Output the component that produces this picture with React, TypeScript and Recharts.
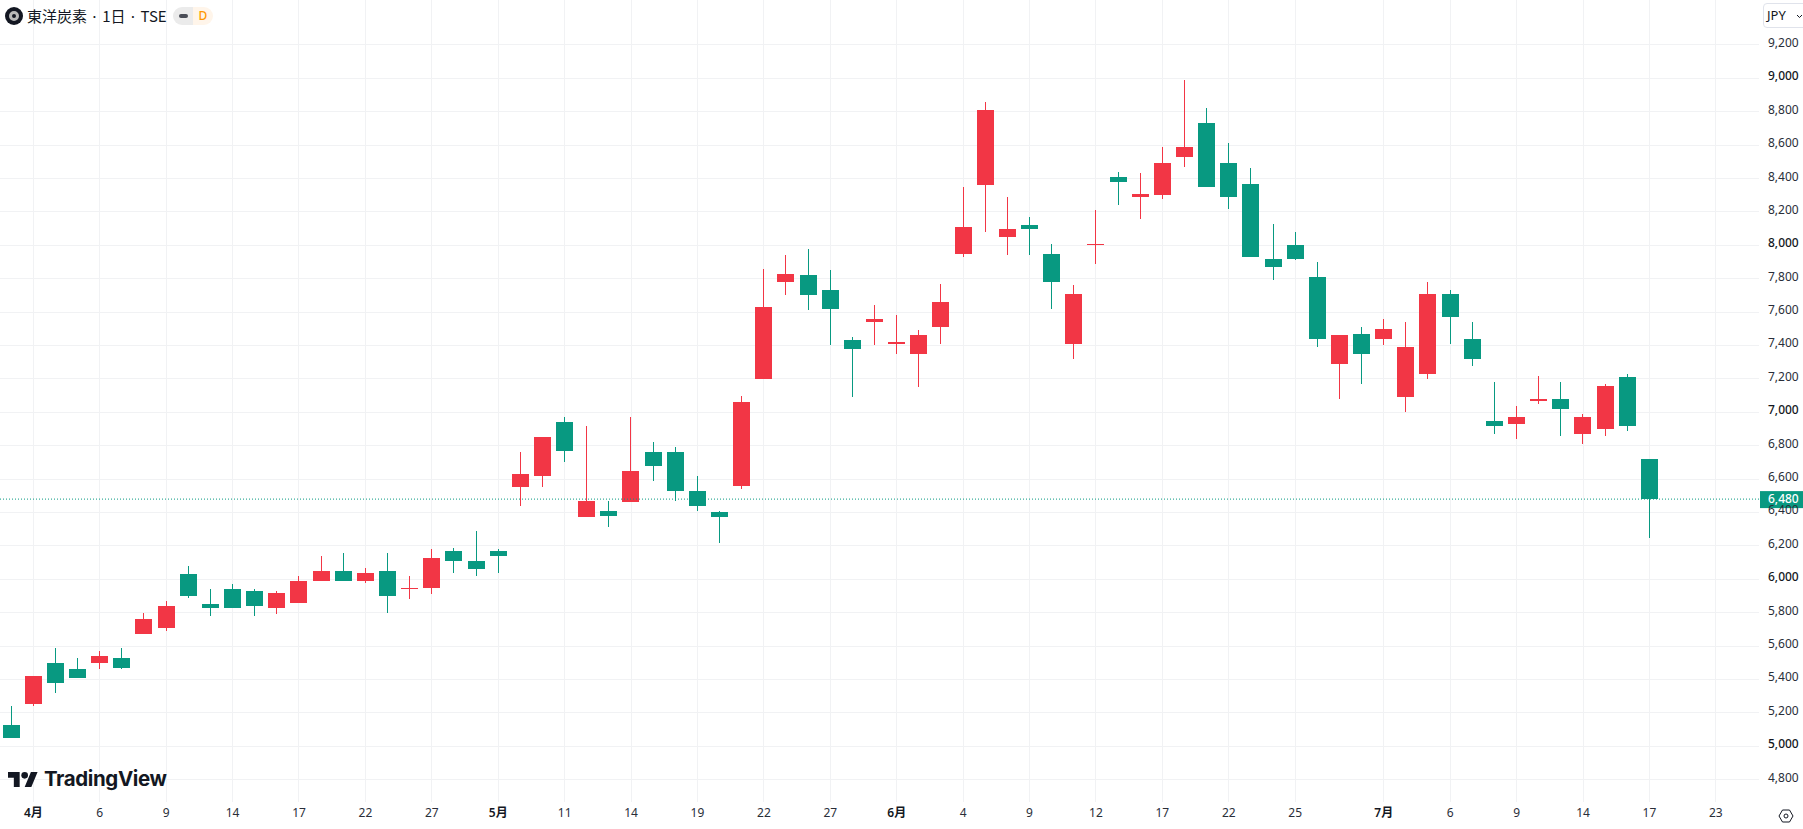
import React from 'react';
import { ComposedChart, Bar, XAxis, YAxis, CartesianGrid, ReferenceLine } from 'recharts';

// 日足データ
const opens = [5130, 5250, 5500, 5460, 5500, 5530, 5670, 5710, 6030, 5850, 5940, 5930, 5830, 5860, 5990, 6050, 5990, 6050, 5940, 5950, 6170, 6110, 6170, 6550, 6620, 6940, 6370, 6410, 6460, 6760, 6760, 6530, 6400, 6560, 7200, 7780, 7820, 7730, 7430, 7540, 7410, 7350, 7510, 7950, 8360, 8050, 8120, 7950, 7410, 8000, 8410, 8290, 8300, 8530, 8730, 8490, 8370, 7920, 8000, 7810, 7290, 7470, 7440, 7090, 7230, 7710, 7440, 6950, 6930, 7070, 7080, 6870, 6900, 7210, 6720];
const highs = [5240, 5420, 5590, 5530, 5570, 5590, 5800, 5870, 6080, 5940, 5970, 5940, 5930, 6020, 6140, 6160, 6070, 6160, 6020, 6180, 6190, 6290, 6180, 6760, 6850, 6970, 6920, 6470, 6970, 6820, 6790, 6620, 6410, 7100, 7860, 7940, 7980, 7850, 7450, 7640, 7580, 7490, 7770, 8350, 8860, 8290, 8170, 8010, 7760, 8210, 8440, 8430, 8590, 8990, 8820, 8610, 8460, 8130, 8080, 7900, 7460, 7510, 7560, 7540, 7780, 7730, 7540, 7180, 7040, 7220, 7180, 6990, 7170, 7230, 6720];
const lows = [5050, 5240, 5320, 5410, 5460, 5460, 5670, 5690, 5890, 5780, 5830, 5780, 5790, 5860, 5990, 5990, 5980, 5800, 5880, 5910, 6040, 6020, 6040, 6440, 6550, 6700, 6370, 6310, 6460, 6590, 6470, 6410, 6220, 6540, 7200, 7700, 7610, 7400, 7090, 7400, 7350, 7150, 7410, 7930, 8080, 7940, 7940, 7620, 7320, 7890, 8240, 8160, 8280, 8470, 8350, 8220, 7930, 7790, 7910, 7390, 7080, 7170, 7400, 7000, 7200, 7410, 7280, 6870, 6840, 7050, 6860, 6810, 6860, 6890, 6250];
const closes = [5050, 5420, 5380, 5410, 5540, 5470, 5760, 5840, 5900, 5830, 5830, 5840, 5920, 5990, 6050, 5990, 6040, 5900, 5950, 6130, 6110, 6060, 6140, 6630, 6850, 6770, 6470, 6380, 6650, 6680, 6530, 6440, 6370, 7060, 7630, 7830, 7700, 7620, 7380, 7560, 7420, 7460, 7660, 8110, 8810, 8100, 8100, 7780, 7710, 8010, 8380, 8310, 8490, 8590, 8350, 8290, 7930, 7870, 7920, 7440, 7460, 7350, 7500, 7390, 7710, 7570, 7320, 6920, 6970, 7080, 7020, 6970, 7160, 6920, 6480];

const tickIndexes = [1, 4, 7, 10, 13, 16, 19, 22, 25, 28, 31, 34, 37, 40, 43, 46, 49, 52, 55, 58, 62, 65, 68, 71, 74, 77];
const tickLabels = ['4月', '6', '9', '14', '17', '22', '27', '5月', '11', '14', '19', '22', '27', '6月', '4', '9', '12', '17', '22', '25', '7月', '6', '9', '14', '17', '23'];
const priceTicks = [4800, 5000, 5200, 5400, 5600, 5800, 6000, 6200, 6400, 6600, 6800, 7000, 7200, 7400, 7600, 7800, 8000, 8200, 8400, 8600, 8800, 9000, 9200];
const lastPrice = 6480;

const UP = '#f23645';
const DOWN = '#089981';
const FONT = '"Noto Sans", "Noto Sans CJK JP", sans-serif';

const chartData = opens.map((open, i) => ({ i, open, high: highs[i], low: lows[i], close: closes[i] }));

const Candle = (props: any) => {
  const { x, y, width, height, payload } = props;
  const k = height / (payload.high - payload.low);
  const color = payload.close >= payload.open ? UP : DOWN;
  const top = y + (payload.high - Math.max(payload.open, payload.close)) * k;
  const bodyH = Math.max(Math.abs(payload.close - payload.open) * k, 1);
  // グリッド線のピクセルに合わせる
  const cx = Math.round(x + width / 2) - 1;
  return (
    <g shapeRendering="crispEdges">
      <rect x={cx} y={y} width={1} height={height} fill={color} />
      <rect x={cx - 8} y={top} width={17} height={bodyH} fill={color} />
    </g>
  );
};

const DateTick = (props: any) => {
  const { x, y, payload } = props;
  const label = tickLabels[tickIndexes.indexOf(payload.value)];
  const major = label.includes('月');
  return (
    <text x={x} y={y} textAnchor="middle" fontFamily={FONT} fontSize={12} fontWeight={major ? 600 : 400} fill={major ? '#131722' : '#2a2e39'}>
      {label}
    </text>
  );
};

const PriceTick = (props: any) => {
  const { x, y, payload } = props;
  const major = payload.value % 1000 === 0;
  return (
    <text x={x} y={y + 2} textAnchor="start" fontFamily={FONT} fontSize={12} fontWeight={major ? 500 : 400} fill={major ? '#131722' : '#2a2e39'}>
      {payload.value.toLocaleString('en-US')}
    </text>
  );
};

const PriceTag = (props: any) => {
  const { viewBox } = props;
  const y = viewBox.y;
  const left = viewBox.x + viewBox.width + 1;
  return (
    <g>
      <rect x={left} y={y - 8} width={43} height={17} fill={DOWN} />
      <text x={left + 8} y={y + 4} fontFamily={FONT} fontSize={12} fontWeight={500} fill="#fff">
        {lastPrice.toLocaleString('en-US')}
      </text>
    </g>
  );
};

export default function App() {
  return (
    <div style={{ position: 'fixed', left: 0, top: 0, width: 1803, height: 829, background: '#fff', overflow: 'hidden' }}>
      <ComposedChart width={1803} height={829} data={chartData} margin={{ top: 0, right: 0, bottom: 0, left: 0 }}>
        <CartesianGrid stroke="#f1f2f4" shapeRendering="crispEdges" syncWithTicks />
        <XAxis
          dataKey="i"
          type="number"
          domain={[-0.506, 78.95]}
          ticks={tickIndexes}
          interval={0}
          allowDataOverflow
          height={27}
          axisLine={false}
          tickLine={false}
          tick={<DateTick />}
          tickMargin={9}
        />
        <YAxis
          orientation="right"
          width={44}
          domain={[4666, 9469]}
          ticks={priceTicks}
          interval={0}
          allowDataOverflow
          axisLine={false}
          tickLine={false}
          tick={<PriceTick />}
          tickSize={0}
          tickMargin={9}
        />
        <ReferenceLine y={lastPrice} stroke={DOWN} strokeDasharray="1 2" label={<PriceTag />} />
        <Bar dataKey={(d: any) => [d.low, d.high]} barSize={17} shape={<Candle />} isAnimationActive={false} />
      </ComposedChart>

      {/* 左上の銘柄表示 */}
      <div style={{ position: 'absolute', left: 5, top: 7, width: 18, height: 18, borderRadius: 9, background: '#131722' }}>
        <div style={{ position: 'absolute', left: 4, top: 4, width: 10, height: 10, borderRadius: 5, border: '3px solid #b8b8b8', boxSizing: 'border-box' }} />
      </div>
      <div style={{ position: 'absolute', left: 27, top: 5, fontFamily: '"Noto Sans CJK JP", sans-serif', fontSize: 15, lineHeight: '22px', color: '#131722', whiteSpace: 'pre' }}>
        東洋炭素 · 1日 · TSE
      </div>
      <div style={{ position: 'absolute', left: 173, top: 7, width: 20, height: 18, background: '#ebebeb', borderRadius: '9px 0 0 9px' }}>
        <div style={{ position: 'absolute', left: 6, top: 7, width: 9, height: 4, borderRadius: 2, background: '#4a4d57' }} />
      </div>
      <div style={{ position: 'absolute', left: 193, top: 7, width: 20, height: 18, background: '#fff5ea', borderRadius: '0 9px 9px 0', color: '#ff9800', fontFamily: FONT, fontSize: 12, fontWeight: 500, lineHeight: '18px', textAlign: 'center' }}>
        D
      </div>

      {/* 通貨ボタン */}
      <div style={{ position: 'absolute', left: 1763, top: 3, width: 48, height: 25, border: '1px solid #e0e3eb', borderRadius: 4, boxSizing: 'border-box', fontFamily: FONT, fontSize: 13, lineHeight: '23px', color: '#131722', paddingLeft: 3 }}>
        JPY
      </div>
      <svg style={{ position: 'absolute', left: 1796, top: 13, width: 7, height: 6 }} viewBox="0 0 7 6">
        <path d="M1 2l2.5 2.5L6 2" fill="none" stroke="#131722" strokeWidth="1" />
      </svg>

      {/* TradingViewロゴ */}
      <svg style={{ position: 'absolute', left: 8, top: 772, width: 30, height: 15 }} viewBox="0 4 36 18">
        <path d="M14 22H7V11H0V4h14v18zM28 22h-8l7.5-18h8L28 22z" fill="#131722" />
        <circle cx="20" cy="8" r="4" fill="#131722" />
      </svg>
      <div style={{ position: 'absolute', left: 44, top: 766, fontFamily: 'Inter, sans-serif', fontSize: 20.5, fontWeight: 700, lineHeight: '26px', color: '#131722', letterSpacing: -0.4 }}>
        TradingView
      </div>

      {/* 設定アイコン */}
      <svg style={{ position: 'absolute', left: 1778, top: 808, width: 16, height: 16 }} viewBox="0 0 16 16">
        <path d="M4.5 2h7L15 8l-3.5 6h-7L1 8z" fill="none" stroke="#131722" strokeWidth="1" />
        <circle cx="8" cy="8" r="2" fill="none" stroke="#131722" strokeWidth="1" />
      </svg>
    </div>
  );
}
